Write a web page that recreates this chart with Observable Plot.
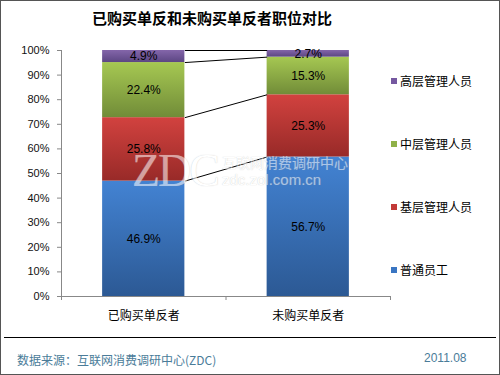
<!DOCTYPE html>
<html>
<head>
<meta charset="utf-8">
<script src="https://cdn.jsdelivr.net/npm/d3@7"></script>
<script src="https://cdn.jsdelivr.net/npm/@observablehq/plot@0.6"></script>
<style>
  html, body { margin: 0; padding: 0; background: #fff; }
  #wrap { position: relative; width: 500px; height: 375px; overflow: hidden; font-family: "Liberation Sans", Arial, "Noto Sans CJK SC", sans-serif; }
  #wrap svg { position: absolute; left: 0; top: 0; }
  .abs { position: absolute; white-space: nowrap; }
  #border { position: absolute; left: 0; top: 0; width: 500px; height: 375px; box-sizing: border-box; border: 1px solid #555; pointer-events: none; }
  #title { left: 0; width: 424px; top: 7px; text-align: center; font: bold 15px "Noto Sans CJK SC", sans-serif; color: #000; }
  .leg { font: 12px "Noto Sans CJK SC", sans-serif; color: #000; }
  .sw { position: absolute; width: 6px; height: 6px; }
  #rule { position: absolute; left: 4px; width: 492px; top: 337px; height: 1px; background: #000; }
  .foot { font: 12px "Noto Sans CJK SC", "Liberation Sans", sans-serif; color: #4a7c99; }
  .wm { color: #fff; opacity: 0.55; text-shadow: 0 0 1px #999; }
</style>
</head>
<body>
<div id="wrap"></div>
<script>
const categories = ["已购买单反者", "未购买单反者"];
const seriesNames = ["普通员工", "基层管理人员", "中层管理人员", "高层管理人员"];
const boughtValues = [46.9, 25.8, 22.4, 4.9];
const notBoughtValues = [56.7, 25.3, 15.3, 2.7];
const yTickValues = [0, 10, 20, 30, 40, 50, 60, 70, 80, 90, 100];
const titleText = "已购买单反和未购买单反者职位对比";
const sourceText = "数据来源：互联网消费调研中心(ZDC)";
const dateText = "2011.08";

const gradTop = ["#4383d3", "#d2423f", "#a6c852", "#8466aa"];
const gradBottom = ["#2c5994", "#982a28", "#718c38", "#5c4683"];
const swatch = ["#3a75c2", "#c23a38", "#8fb148", "#7558a0"];

// stacked rows
const allValues = [boughtValues, notBoughtValues];
const rows = [];
allValues.forEach((vals, i) => {
  let c = 0;
  vals.forEach((v, s) => {
    rows.push({i, s, value: v, y1: c, y2: c + v});
    c += v;
  });
});
// connector boundaries (cumulative tops)
const links = [];
for (let s = 0; s < seriesNames.length; s++) {
  const a = rows.find(r => r.i === 0 && r.s === s);
  const b = rows.find(r => r.i === 1 && r.s === s);
  links.push({from: a.y2, to: b.y2});
}

const half = 0.25;
const svg = Plot.plot({
  width: 500,
  height: 375,
  marginLeft: 61,
  marginRight: 110,
  marginTop: 50,
  marginBottom: 79,
  style: {fontFamily: '"Liberation Sans", Arial, "Noto Sans CJK SC", sans-serif', fontSize: "11px", background: "transparent"},
  x: {type: "linear", domain: [-0.5, categories.length - 0.5], axis: null},
  y: {domain: [0, 100], axis: null},
  marks: [
    Plot.rect(rows, {
      x1: d => d.i - half, x2: d => d.i + half,
      y1: "y1", y2: "y2",
      fill: d => `url(#grad${d.s})`
    }),
    Plot.link(links, {
      x1: () => half, x2: () => 1 - half,
      y1: "from", y2: "to",
      stroke: "#000", strokeWidth: 1
    }),
    Plot.text(rows, {
      x: "i", y: d => (d.y1 + d.y2) / 2,
      text: d => d.value.toFixed(1) + "%",
      fill: "#000", fontSize: 12
    }),
    Plot.ruleX([-0.5], {stroke: "#888"}),
    Plot.ruleY([0], {stroke: "#888"}),
    Plot.axisY({ticks: yTickValues, tickFormat: d => d + "%", tickSize: 4, tickPadding: 8, stroke: "#888", color: "#111", fontSize: 11, label: null}),
    Plot.axisX({ticks: [-0.5, 0.5, 1.5], tickFormat: () => "", tickSize: 4, stroke: "#888", label: null}),
    Plot.axisX({ticks: categories.map((_, i) => i), tickFormat: i => categories[i], tickSize: 0, tickPadding: 15, fontSize: 12, color: "#000", fontFamily: '"Noto Sans CJK SC", sans-serif', label: null})
  ]
});

// gradients
const ns = "http://www.w3.org/2000/svg";
const defs = document.createElementNS(ns, "defs");
gradTop.forEach((c, s) => {
  const g = document.createElementNS(ns, "linearGradient");
  g.setAttribute("id", "grad" + s);
  g.setAttribute("x1", "0"); g.setAttribute("y1", "0");
  g.setAttribute("x2", "0"); g.setAttribute("y2", "1");
  const s1 = document.createElementNS(ns, "stop");
  s1.setAttribute("offset", "0"); s1.setAttribute("stop-color", c);
  const s2 = document.createElementNS(ns, "stop");
  s2.setAttribute("offset", "1"); s2.setAttribute("stop-color", gradBottom[s]);
  g.appendChild(s1); g.appendChild(s2);
  defs.appendChild(g);
});
svg.insertBefore(defs, svg.firstChild);

const wrap = document.getElementById("wrap");
wrap.appendChild(svg);

function addDiv(cls, text, css) {
  const d = document.createElement("div");
  d.className = cls;
  if (text != null) d.textContent = text;
  Object.assign(d.style, css || {});
  wrap.appendChild(d);
  return d;
}

// watermark
addDiv("abs wm", "ZDC", {left: "132px", top: "156px", font: '46px/30px "Liberation Serif", "DejaVu Serif", serif', letterSpacing: "-2px"});
addDiv("abs wm", "互联网消费调研中心", {left: "222px", top: "155px", font: '14px/14px "Noto Sans CJK SC", sans-serif'});
addDiv("abs wm", "zdc.zol.com.cn", {left: "222px", top: "173px", font: '15px/13px "Liberation Sans", sans-serif'});

// title
addDiv("abs", titleText, {}).id = "title";

// legend (top to bottom: reverse of stack order)
const legendY = [81, 144, 207, 270];
seriesNames.slice().reverse().forEach((name, k) => {
  const s = seriesNames.length - 1 - k;
  addDiv("sw", null, {left: "391px", top: (legendY[k] - 3) + "px", background: swatch[s]});
  addDiv("abs leg", name, {left: "400px", top: (legendY[k] - 9) + "px"});
});

// footer
addDiv("", null, {}).id = "rule";
addDiv("abs foot", sourceText, {left: "17px", top: "351px"});
addDiv("abs foot", dateText, {left: "424px", top: "351px", fontFamily: '"Liberation Sans", sans-serif'});

addDiv("", null, {}).id = "border";
</script>
</body>
</html>
